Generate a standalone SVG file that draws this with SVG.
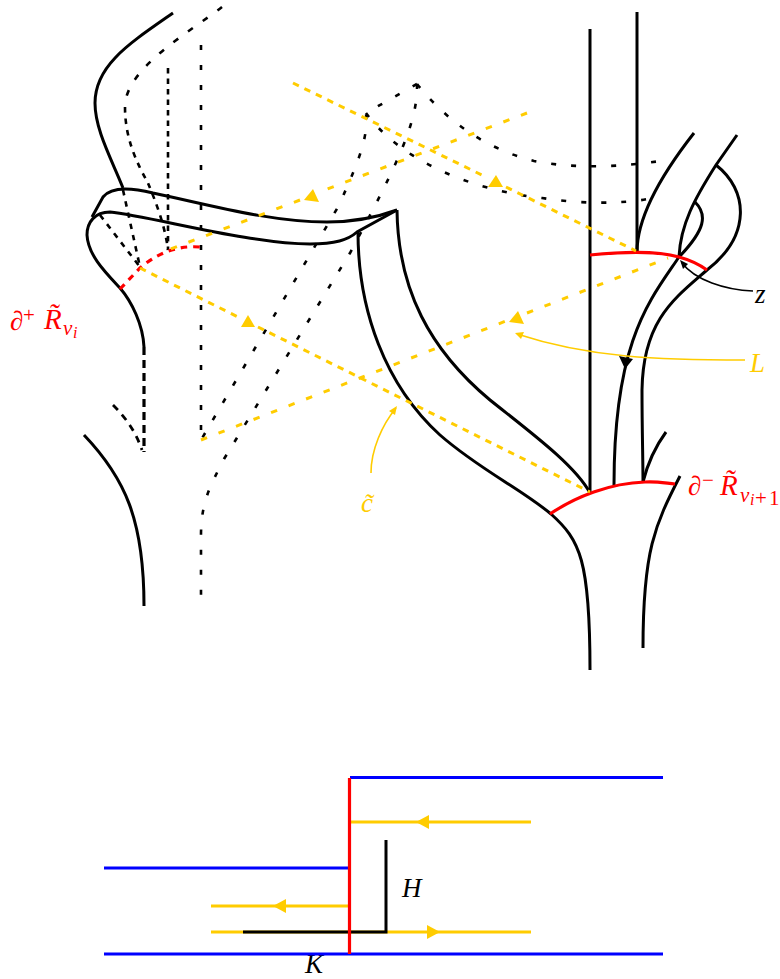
<svg xmlns="http://www.w3.org/2000/svg" width="780" height="979" viewBox="0 0 780 979">
<style>
path,line{fill:none}
.k{stroke:#000;stroke-width:3}
.kd{stroke:#000;stroke-width:2.6;stroke-dasharray:5 15}
.km{stroke:#000;stroke-width:2.6;stroke-dasharray:6 12}
.kn{stroke:#000;stroke-width:2.6;stroke-dasharray:5.500 6}
.kf{stroke:#000;stroke-width:2.6;stroke-dasharray:5.500 5}
.kt{stroke:#000;stroke-width:3.2;stroke-dasharray:8 5}
.ks{stroke:#000;stroke-width:2.8;stroke-dasharray:7 6}
.r{stroke:#f00;stroke-width:3.2}
.rd{stroke:#f00;stroke-width:3.2;stroke-dasharray:6.500 6}
.y{stroke:#fc0;stroke-width:3}
.yd{stroke:#fc0;stroke-width:3;stroke-dasharray:6.500 6.200}
.ye{stroke:#fc0;stroke-width:3;stroke-dasharray:6.500 12.300}
.yt{stroke:#fc0;stroke-width:1.6}
.kt1{stroke:#000;stroke-width:1.6}
.b{stroke:#00f;stroke-width:3}
.fy{fill:#fc0}
.fk{fill:#000}
text{font-family:"Liberation Serif","Times New Roman",serif;font-style:italic;font-size:27px}
.rt{fill:#f00}
.yl{fill:#fc0}
.up{font-style:normal}
.big{font-size:29px}
.sub{font-size:21px}
.sub2{font-size:16px}
</style>
<g id="hidden-dashed">
<path class="km" d="M222,7C190,32 125,68 125,107"/>
<path class="kn" d="M125,107C125,140 138,165 148,183C155,200 165,225 168,250"/>
<path class="kf" d="M168,68V250"/>
<path class="kd" d="M201,45V437"/>
<path class="kn" d="M123,190L140,267"/>
<path class="kn" d="M100,215L140,267"/>
<path class="kt" d="M144,347V452"/>
<path class="ks" d="M113,405C125,417 135,430 142,450"/>
<path class="kd" d="M417,84L366,113C368,135 362,155 338,207L201,440"/>
<path class="kd" d="M417,84C418,120 400,160 350,253L224,459C212,483 201,500 201,535V598"/>
<path class="kd" d="M417,84C450,125 490,150 534,161C575,169 620,167 660,161"/>
<path class="kd" d="M366,113C400,160 470,190 542,198C580,204 620,204 648,199"/>
</g>
<g id="curves">
<path class="k" d="M173,13C130,43 95,65 95,103C95,130 112,160 123,188"/>
<path class="k" d="M92,217L103,197C110,188 125,186 153,193C210,205 270,222 327,222C355,222 378,217 397,210"/>
<path class="k" d="M144,347C143,325 132,302 120,288C105,272 88,255 87,235C87,222 95,212 110,212C150,216 250,244 310,244C335,244 348,240 357,232L397,210"/>
<path class="k" d="M84,435C125,478 144,520 144,606"/>
<path class="k" d="M358,232C358,310 385,385 440,435C480,470 520,488 551,514C580,540 590,560 590,670"/>
<path class="k" d="M397,210C398,290 430,350 490,400C530,432 575,465 590,493"/>
<path class="k" d="M590,29V493"/>
<path class="k" d="M637,12V252"/>
<path class="k" d="M694,133C665,170 637,215 637,252"/>
<path class="k" d="M737,135L716,165C695,198 680,225 679,258"/>
<path class="k" d="M695,202C708,215 705,230 679,257C650,300 614,340 614,485"/>
<path class="k" d="M716,165C748,190 752,235 707,270C675,298 643,320 642,390C642,430 643,460 643,482"/>
<path class="k" d="M666,432C655,447 648,462 643,482"/>
<path class="k" d="M680,476C655,525 643,550 643,648"/>
<path class="fk" d="M619,356L633,359L625,369Z"/>
</g>
<g id="boundaries">
<path class="r" d="M590,255C620,252 655,250 679,257C690,260 700,265 707,270"/>
<path class="r" d="M550,514C575,497 610,483 645,482C655,481 665,483 675,484"/>
<path class="rd" d="M120,289L140,268C155,255 175,245 200,247"/>
</g>
<g id="loop-c">
<line class="yd" x1="293" y1="83" x2="486" y2="177"/>
<line class="yd" x1="506" y1="187" x2="636" y2="251"/>
<line class="ye" x1="527" y1="113" x2="322" y2="191"/>
<line class="ye" x1="300" y1="200" x2="168" y2="250"/>
<line class="yd" x1="140" y1="268" x2="238" y2="317"/>
<line class="yd" x1="258" y1="327" x2="590" y2="492"/>
<line class="ye" x1="201" y1="440" x2="506" y2="321"/>
<line class="ye" x1="527" y1="313" x2="668" y2="258"/>
<path class="fy" d="M304,200L313,189L319,202Z"/>
<path class="fy" d="M241,327L248,315L255,327Z"/>
<path class="fy" d="M488,187L496,175L503,187Z"/>
<path class="fy" d="M509,322L518,311L524,324Z"/>
</g>
<g id="pointers">
<path class="kt1" d="M753,291C725,290 695,280 682,263"/>
<path class="fk" d="M680,260L688,264L683,269Z"/>
<path class="yt" d="M745,360C660,360 590,358 517,334"/>
<path class="fy" d="M515,333L524,332L521,339Z"/>
<path class="yt" d="M371,473C371,450 382,425 396,408"/>
<path class="fy" d="M397,406L395,415L389,411Z"/>
</g>
<g id="labels">
<text class="rt" x="10" y="330"><tspan class="up">∂</tspan><tspan class="up sub" x="23" y="322">+</tspan><tspan class="big" x="44" y="329">R̃</tspan><tspan class="sub" x="63" y="335">v</tspan><tspan class="sub2" x="73" y="338">i</tspan></text>
<text class="rt" x="688" y="495"><tspan class="up">∂</tspan><tspan class="up sub" x="702" y="487">−</tspan><tspan class="big" x="720" y="495">R̃</tspan><tspan class="sub" x="740" y="502">v</tspan><tspan class="sub2" x="750" y="505">i</tspan><tspan class="sub up" x="755" y="505">+</tspan><tspan class="sub up" x="769" y="505">1</tspan></text>
<text x="755" y="303">z</text>
<text class="yl" x="750" y="372">L</text>
<text class="yl" x="361" y="512">c̃</text>
<text x="402" y="897">H</text>
<text x="305" y="973">K</text>
</g>
<g id="lower-figure">
<line class="b" x1="350" y1="777.500" x2="663" y2="777.500"/>
<line class="b" x1="104" y1="868" x2="349" y2="868"/>
<line class="b" x1="104" y1="954" x2="663" y2="954"/>
<line class="y" x1="349" y1="822" x2="531" y2="822"/>
<line class="y" x1="211" y1="906" x2="349" y2="906"/>
<line class="y" x1="211" y1="932" x2="531" y2="932"/>
<path class="fy" d="M416,822L429,815V829Z"/>
<path class="fy" d="M273,906L286,899V913Z"/>
<path class="fy" d="M440,932L427,925V939Z"/>
<path class="k" d="M243,932H386V840"/>
<line class="r" x1="349.500" y1="778" x2="349.500" y2="954"/>
</g>
</svg>
